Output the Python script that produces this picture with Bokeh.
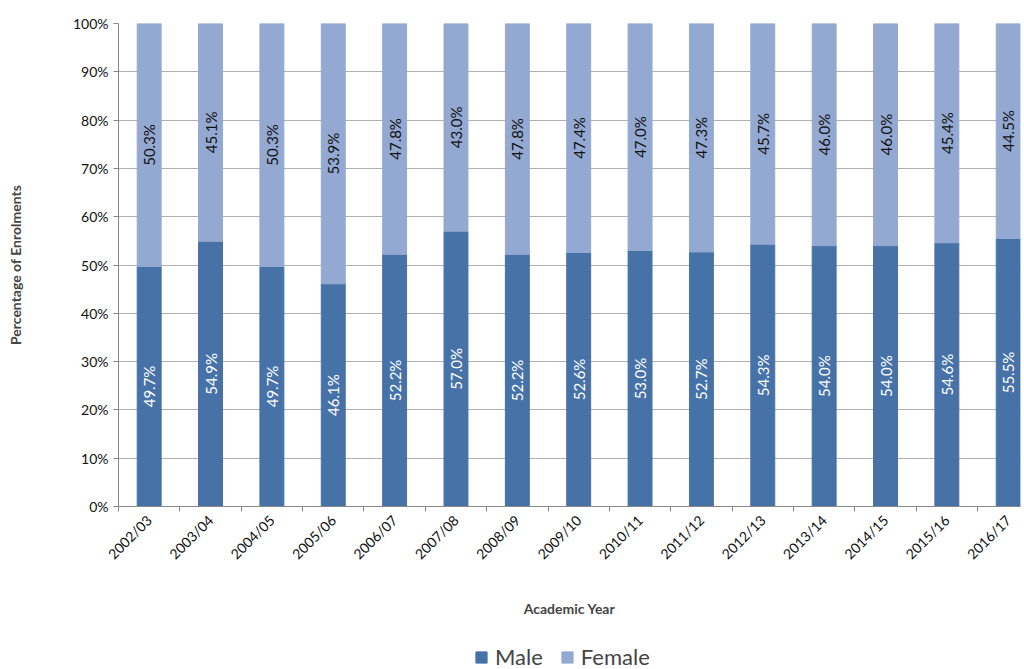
import math
from bokeh.plotting import figure
from bokeh.layouts import column
from bokeh.models import (Range1d, FixedTicker, PrintfTickFormatter, Legend, LegendItem,
                          ColumnDataSource)
from bokeh.core.properties import value
from bokeh.embed import file_html
from bokeh.resources import INLINE

years = ["2002/03", "2003/04", "2004/05", "2005/06", "2006/07", "2007/08", "2008/09",
         "2009/10", "2010/11", "2011/12", "2012/13", "2013/14", "2014/15", "2015/16", "2016/17"]
male = [49.7, 54.9, 49.7, 46.1, 52.2, 57.0, 52.2, 52.6, 53.0, 52.7, 54.3, 54.0, 54.0, 54.6, 55.5]
female = [50.3, 45.1, 50.3, 53.9, 47.8, 43.0, 47.8, 47.4, 47.0, 47.3, 45.7, 46.0, 46.0, 45.4, 44.5]
y_ticks = [0, 10, 20, 30, 40, 50, 60, 70, 80, 90, 100]
series_names = ["Male", "Female"]

MALE_C = "#4672A8"
FEMALE_C = "#94A9D1"
FONT = "Lato"

xs = [i + 0.5 for i in range(len(years))]
src = ColumnDataSource(dict(
    x=xs, male=male, female=female,
    male_top=male,
    female_bottom=male,
    female_top=[m + f for m, f in zip(male, female)],
    male_mid=[m / 2 for m in male],
    female_mid=[m + f / 2 for m, f in zip(male, female)],
    male_lbl=[f"{v:.1f}%" for v in male],
    female_lbl=[f"{v:.1f}%" for v in female],
))

p = figure(width=1022, height=640, output_backend="svg", toolbar_location=None,
           x_range=Range1d(0, 14.7), y_range=Range1d(0, 100),
           min_border_left=118, min_border_right=2, min_border_top=23, min_border_bottom=134)
p.outline_line_color = None
p.background_fill_color = "white"

p.vbar(x="x", width=0.39, bottom=0, top="male_top", source=src,
       fill_color=MALE_C, line_color=MALE_C)
p.vbar(x="x", width=0.39, bottom="female_bottom", top="female_top", source=src,
       fill_color=FEMALE_C, line_color=FEMALE_C)

p.text(x="x", y="male_mid", text="male_lbl", source=src, angle=math.pi / 2,
       text_align="center", text_baseline="middle", text_color="white",
       text_font=value(FONT), text_font_size="15px")
p.text(x="x", y="female_mid", text="female_lbl", source=src, angle=math.pi / 2,
       text_align="center", text_baseline="middle", text_color="#111111",
       text_font=value(FONT), text_font_size="15px")

# x axis
p.xaxis.ticker = FixedTicker(ticks=xs, minor_ticks=list(range(len(years))))
p.xaxis.major_label_overrides = {x: y for x, y in zip(xs, years)}
p.xaxis.major_label_orientation = math.pi / 4
p.xaxis.major_tick_line_color = None
p.xaxis.minor_tick_line_color = "#888888"
p.xaxis.minor_tick_out = 5
p.xaxis.minor_tick_in = 0
p.xaxis.axis_line_color = "#888888"
p.xaxis.major_label_text_font = FONT
p.xaxis.major_label_text_font_size = "14px"
p.xaxis.major_label_text_color = "#111111"
p.xaxis.axis_label = "Academic Year"
p.xaxis.axis_label_text_font = FONT
p.xaxis.axis_label_text_font_style = "bold"
p.xaxis.axis_label_text_font_size = "14px"
p.xaxis.axis_label_standoff = 29

# y axis
p.yaxis.ticker = FixedTicker(ticks=y_ticks)
p.yaxis.formatter = PrintfTickFormatter(format="%d%%")
p.yaxis.major_tick_out = 5
p.yaxis.major_tick_in = 0
p.yaxis.major_tick_line_color = "#888888"
p.yaxis.minor_tick_line_color = None
p.yaxis.axis_line_color = "#888888"
p.yaxis.major_label_text_font = FONT
p.yaxis.major_label_text_font_size = "14px"
p.yaxis.major_label_text_color = "#111111"
p.yaxis.axis_label = "Percentage of Enrolments"
p.yaxis.axis_label_text_font = FONT
p.yaxis.axis_label_text_font_style = "bold"
p.yaxis.axis_label_text_font_size = "14px"
p.yaxis.axis_label_standoff = 46

p.xgrid.grid_line_color = None
p.ygrid.grid_line_color = "#B0B0B0"
p.ygrid.grid_line_width = 1

# legend strip below the chart
lg = figure(width=1022, height=29, output_backend="svg", toolbar_location=None,
            x_range=Range1d(0, 1), y_range=Range1d(0, 1),
            min_border_left=0, min_border_right=0, min_border_top=0, min_border_bottom=0)
lg.axis.visible = False
lg.grid.visible = False
lg.outline_line_color = None
offscreen = ColumnDataSource(dict(x=[-10], top=[-10], bottom=[-11]))
rm = lg.vbar(x="x", top="top", bottom="bottom", width=0.1, source=offscreen,
             fill_color=MALE_C, line_color=MALE_C)
rf = lg.vbar(x="x", top="top", bottom="bottom", width=0.1, source=offscreen,
             fill_color=FEMALE_C, line_color=FEMALE_C)
legend = Legend(items=[LegendItem(label=series_names[0], renderers=[rm]),
                       LegendItem(label=series_names[1], renderers=[rf])],
                orientation="horizontal", location=(356, -1),
                label_text_font=FONT, label_text_font_size="22px",
                glyph_width=14, glyph_height=14, label_standoff=7, spacing=17,
                border_line_color=None, background_fill_alpha=0, margin=0, padding=0)
lg.add_layout(legend, "center")

open("out.html", "w").write(file_html(column(p, lg, spacing=0), INLINE))
